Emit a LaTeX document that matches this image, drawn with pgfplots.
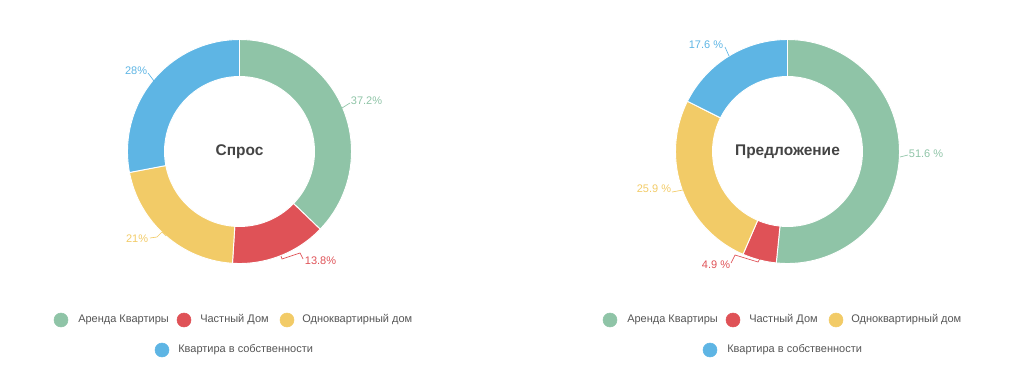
\documentclass[border=0pt]{standalone}
\usepackage{pgfplots}
\pgfplotsset{compat=1.18}
\usepackage{fontspec}
\setmainfont{Liberation Sans}
\definecolor{cg}{HTML}{8FC4A7}
\definecolor{cr}{HTML}{DF5257}
\definecolor{cy}{HTML}{F2CB67}
\definecolor{cb}{HTML}{5EB5E4}
\definecolor{txt}{HTML}{555555}
\definecolor{ttl}{HTML}{444444}
% #1 cx, #2 cy, #3 cumulative start (%), #4 value (%), #5 colour
\newcommand{\seg}[5]{%
  \fill[#5, draw=white, line width=0.7pt] (axis cs:#1,#2) ++({90-3.6*#3}:84pt)
    arc[start angle={90-3.6*#3}, end angle={90-3.6*(#3+#4)}, radius=84pt]
    -- ++({90-3.6*(#3+#4)}:-27.75pt)
    arc[start angle={90-3.6*(#3+#4)}, end angle={90-3.6*#3}, radius=56.25pt] -- cycle;}
\newcommand{\lab}{\fontsize{8.25}{10}\selectfont}
\begin{document}
\begin{tikzpicture}
\useasboundingbox (0,0) rectangle (768pt,288.75pt);
\begin{axis}[at={(0,0)}, anchor=south west, scale only axis,
  width=768pt, height=288.75pt, xmin=0, xmax=1024, ymin=0, ymax=385,
  y dir=reverse, hide axis, clip=false]
% ---- Спрос: 37.2, 13.8, 21, 28
\seg{239.5}{151.5}{0}{37.2}{cg}
\seg{239.5}{151.5}{37.2}{13.8}{cr}
\seg{239.5}{151.5}{51}{21}{cy}
\seg{239.5}{151.5}{72}{28}{cb}
% ---- Предложение: 51.6, 4.9, 25.9, 17.6
\seg{787.5}{151.5}{0}{51.6}{cg}
\seg{787.5}{151.5}{51.6}{4.9}{cr}
\seg{787.5}{151.5}{56.5}{25.9}{cy}
\seg{787.5}{151.5}{82.4}{17.6}{cb}
% titles
\node[ttl, font=\fontsize{11.6}{14}\selectfont\bfseries] at (axis cs:239.5,152) {Спрос};
\node[ttl, font=\fontsize{11.6}{14}\selectfont\bfseries] at (axis cs:787.5,152) {Предложение};
% leader lines and labels, left
\draw[cg, line width=0.5pt] (axis cs:342,108) -- (axis cs:350,103);
\node[cg, anchor=west, inner sep=0.5pt, font=\lab] at (axis cs:350,101) {37.2\%};
\draw[cr, line width=0.5pt] (axis cs:281,256) -- (axis cs:282,259) -- (axis cs:300,253) -- (axis cs:303,259);
\node[cr, anchor=west, inner sep=0.5pt, font=\lab] at (axis cs:304,261) {13.8\%};
\draw[cy, line width=0.5pt] (axis cs:166,236) -- (axis cs:162,232) -- (axis cs:157,237) -- (axis cs:150,238);
\node[cy, anchor=east, inner sep=0.5pt, font=\lab] at (axis cs:149,239) {21\%};
\draw[cb, line width=0.5pt] (axis cs:154,81) -- (axis cs:148,73);
\node[cb, anchor=east, inner sep=0.5pt, font=\lab] at (axis cs:148,71) {28\%};
% leader lines and labels, right
\draw[cg, line width=0.5pt] (axis cs:900,157) -- (axis cs:908,155);
\node[cg, anchor=west, inner sep=0.5pt, font=\lab] at (axis cs:908,154) {51.6 \%};
\draw[cr, line width=0.5pt] (axis cs:760,258) -- (axis cs:758,262) -- (axis cs:735,255) -- (axis cs:731,263);
\node[cr, anchor=east, inner sep=0.5pt, font=\lab] at (axis cs:731,265) {4.9 \%};
\draw[cy, line width=0.5pt] (axis cs:683,190) -- (axis cs:672,192);
\node[cy, anchor=east, inner sep=0.5pt, font=\lab] at (axis cs:672,189) {25.9 \%};
\draw[cb, line width=0.5pt] (axis cs:729,56) -- (axis cs:725,47);
\node[cb, anchor=east, inner sep=0.5pt, font=\lab] at (axis cs:724,45) {17.6 \%};
% legend markers
\addplot[only marks, mark=*, mark size=5.25pt, color=cg] coordinates {(61,320) (610,320)};
\addplot[only marks, mark=*, mark size=5.25pt, color=cr] coordinates {(184,320) (733,320)};
\addplot[only marks, mark=*, mark size=5.25pt, color=cy] coordinates {(287,320) (836,320)};
\addplot[only marks, mark=*, mark size=5.25pt, color=cb] coordinates {(162,350) (710,350)};
% legend texts
\node[txt, anchor=west, inner sep=0pt, font=\lab] at (axis cs:78,320) {Аренда Квартиры};
\node[txt, anchor=west, inner sep=0pt, font=\lab] at (axis cs:200,320) {Частный Дом};
\node[txt, anchor=west, inner sep=0pt, font=\lab] at (axis cs:302,320) {Одноквартирный дом};
\node[txt, anchor=west, inner sep=0pt, font=\lab] at (axis cs:178,350) {Квартира в собственности};
\node[txt, anchor=west, inner sep=0pt, font=\lab] at (axis cs:627,320) {Аренда Квартиры};
\node[txt, anchor=west, inner sep=0pt, font=\lab] at (axis cs:749,320) {Частный Дом};
\node[txt, anchor=west, inner sep=0pt, font=\lab] at (axis cs:851,320) {Одноквартирный дом};
\node[txt, anchor=west, inner sep=0pt, font=\lab] at (axis cs:727,350) {Квартира в собственности};
\end{axis}
\end{tikzpicture}
\end{document}
